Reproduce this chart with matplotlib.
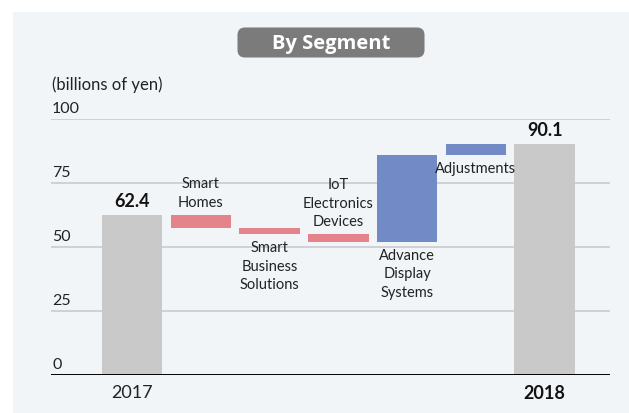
import matplotlib
matplotlib.use("Agg")
import matplotlib.pyplot as plt
from matplotlib.patches import FancyBboxPatch, Rectangle

plt.rcParams['font.family'] = ['Lato', 'DejaVu Sans']

# data (billions of yen)
start_label = "2017"
end_label = "2018"
start_value = 62.4
end_value = 90.1
segments = ["Smart\nHomes", "Smart\nBusiness\nSolutions", "IoT\nElectronics\nDevices",
            "Advance\nDisplay\nSystems", "Adjustments"]
deltas = [-4.9, -2.6, -3.0, 34.0, 4.2]
yticks = [0, 25, 50, 75, 100]

grey = "#c8c9c8"
pink = "#e5838c"
blue = "#728bc6"
bg = "#f1f5f8"

W, H = 629, 414
fig = plt.figure(figsize=(W / 100, H / 100), dpi=100)
fig.patch.set_facecolor("white")
fig.patches.append(Rectangle((13 / W, 0), 1, 1 - 13 / H, transform=fig.transFigure,
                             facecolor=bg, edgecolor="none", zorder=-10))

# title badge
fig.patches.append(FancyBboxPatch((240 / W, 1 - 56 / H), 182 / W, 25 / H,
                                  boxstyle="round,pad=0.004,rounding_size=0.012",
                                  transform=fig.transFigure, facecolor="#7b7b7b",
                                  edgecolor="none", mutation_aspect=W / H))
fig.text(331 / W, 1 - 43.5 / H, "By Segment", color="white", fontsize=14.5,
         fontweight="bold", family=["Open Sans", "DejaVu Sans"], ha="center", va="center")

ax = fig.add_axes([51 / W, (H - 376) / H, 559 / W, 256 / H])
ax.set_facecolor("none")
ax.set_xlim(-1.18, 6.95)
ax.set_ylim(0, 100)
for s in ax.spines.values():
    s.set_visible(False)
ax.set_xticks([])
ax.set_yticks([])

for t in yticks:
    if t == 0:
        ax.axhline(0, color="black", lw=1.4, zorder=3)
    else:
        ax.axhline(t, color="#cfd2d4", lw=1.4, zorder=0)
    ax.text(0.002, t + 1.5, str(t), transform=ax.get_yaxis_transform(),
            ha="left", va="bottom", fontsize=11.5, color="#222222")
ax.text(0.002, 1.105, "(billions of yen)", transform=ax.transAxes,
        ha="left", va="bottom", fontsize=12, color="#222222")

width = 0.88
# start and end totals
ax.bar(0, start_value, width=width, color=grey, zorder=2)
ax.bar(len(segments) + 1, end_value, width=width, color=grey, zorder=2, clip_on=False)
ax.text(0, start_value + 2.5, f"{start_value}", ha="center", va="bottom",
        fontsize=13, fontweight="bold", color="#111111")
ax.text(len(segments) + 1, end_value + 2.5, f"{end_value}", ha="center", va="bottom",
        fontsize=13, fontweight="bold", color="#111111")

level = start_value
label_above = [True, False, True, False, False]
for i, (name, d) in enumerate(zip(segments, deltas)):
    x = i + 1
    lo, hi = min(level, level + d), max(level, level + d)
    ax.bar(x, hi - lo, bottom=lo, width=width, color=blue if d > 0 else pink, zorder=2)
    if label_above[i]:
        ax.text(x, hi + 2.5, name, ha="center", va="bottom", fontsize=10.5,
                color="#222222", linespacing=1.4, zorder=4)
    else:
        ax.text(x, lo - 2.3, name, ha="center", va="top", fontsize=10.5,
                color="#222222", linespacing=1.4, zorder=4)
    level += d

ax.text(0, -3.5, start_label, ha="center", va="top", fontsize=13, color="#222222")
ax.text(len(segments) + 1, -3.5, end_label, ha="center", va="top", fontsize=13,
        fontweight="bold", color="#111111")

fig.savefig("out.png", dpi=100, facecolor=fig.get_facecolor())
